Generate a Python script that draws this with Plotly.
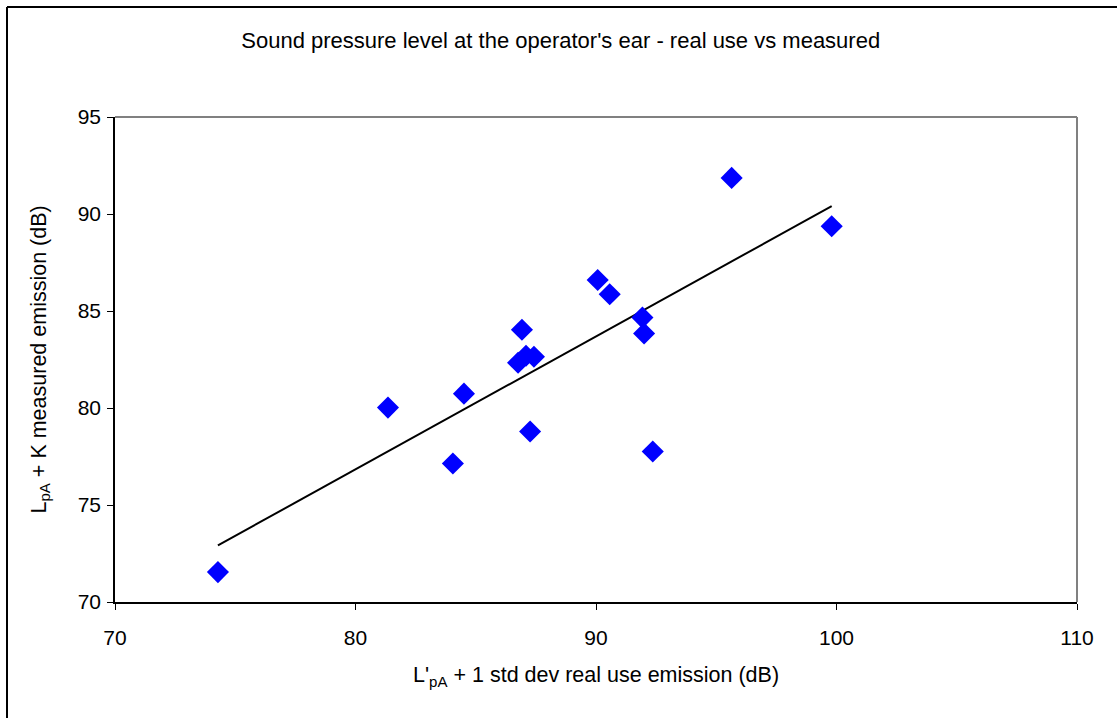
import numpy as np
import plotly.graph_objects as go

# Data
real_use = [74.28, 81.35, 84.05, 84.51, 86.92, 86.76, 87.09, 87.42, 87.26,
            90.07, 90.57, 91.93, 92.00, 92.36, 95.64, 99.80]
measured = [71.54, 80.02, 77.14, 80.74, 84.03, 82.33, 82.69, 82.64, 78.79,
            86.60, 85.86, 84.66, 83.84, 77.76, 91.86, 89.37]
x_ticks = [70, 80, 90, 100, 110]
y_ticks = [70, 75, 80, 85, 90, 95]

# Linear trendline fitted to the data
slope, intercept = np.polyfit(real_use, measured, 1)
trend_x = [min(real_use), max(real_use)]
trend_y = [slope * v + intercept for v in trend_x]

FONT = "Liberation Sans, Arial, sans-serif"
TICK_SIZE = 21
TITLE_SIZE = 21.5

fig = go.Figure()
fig.add_trace(go.Scatter(x=trend_x, y=trend_y, mode="lines",
                         line=dict(color="black", width=2), showlegend=False,
                         hoverinfo="skip"))
fig.add_trace(go.Scatter(x=real_use, y=measured, mode="markers",
                         marker=dict(symbol="diamond", size=17, color="#0000FF",
                                     line=dict(width=0)),
                         showlegend=False))

axis_common = dict(showgrid=False, zeroline=False, showline=True, linecolor="black",
                   linewidth=1.5, ticks="outside", ticklen=6, tickcolor="black",
                   tickwidth=1, tickfont=dict(family=FONT, size=TICK_SIZE, color="black"),
                   mirror=False, automargin=False)

PLOT_W = 1077 - 115
PLOT_H = 602 - 117

fig.update_layout(
    width=1117, height=718,
    margin=dict(l=115, r=40, t=117, b=116),
    paper_bgcolor="white", plot_bgcolor="white",
    font=dict(family=FONT, color="black"),
    title=dict(text="Sound pressure level at the operator's ear - real use vs measured",
               x=0.502, xref="container", xanchor="center",
               y=1 - 40 / 718, yanchor="middle",
               font=dict(family=FONT, size=22, color="black")),
    xaxis=dict(range=[70, 110], tickvals=x_ticks, ticklabelstandoff=10, **axis_common),
    yaxis=dict(range=[70, 95], tickvals=y_ticks, ticklabelstandoff=2, **axis_common),
    annotations=[
        dict(text="L'<sub>pA</sub> + 1 std dev real use emission (dB)",
             xref="paper", yref="paper", x=0.5, y=(602 - 676) / PLOT_H,
             xanchor="center", yanchor="middle", showarrow=False,
             font=dict(family=FONT, size=TITLE_SIZE, color="black")),
        dict(text="L<sub>pA</sub> + K measured emission (dB)",
             xref="paper", yref="paper", x=(40 - 115) / PLOT_W, y=0.5,
             xanchor="center", yanchor="middle", textangle=-90, showarrow=False,
             font=dict(family=FONT, size=TITLE_SIZE, color="black")),
    ],
    shapes=[
        # gray top and right border of the plot area
        dict(type="line", xref="paper", yref="paper", x0=0, x1=1, y0=1, y1=1,
             line=dict(color="#808080", width=2)),
        dict(type="line", xref="paper", yref="paper", x0=1, x1=1, y0=0, y1=1,
             line=dict(color="#808080", width=2)),
        # outer chart border (left and top)
        dict(type="line", xref="paper", yref="paper",
             x0=(7 - 115) / PLOT_W, x1=1.2, y0=(602 - 7) / PLOT_H, y1=(602 - 7) / PLOT_H,
             line=dict(color="black", width=2)),
        dict(type="line", xref="paper", yref="paper",
             x0=(7 - 115) / PLOT_W, x1=(7 - 115) / PLOT_W, y0=-0.5, y1=(602 - 7) / PLOT_H,
             line=dict(color="black", width=2)),
    ],
)

fig.write_html("out.html")
